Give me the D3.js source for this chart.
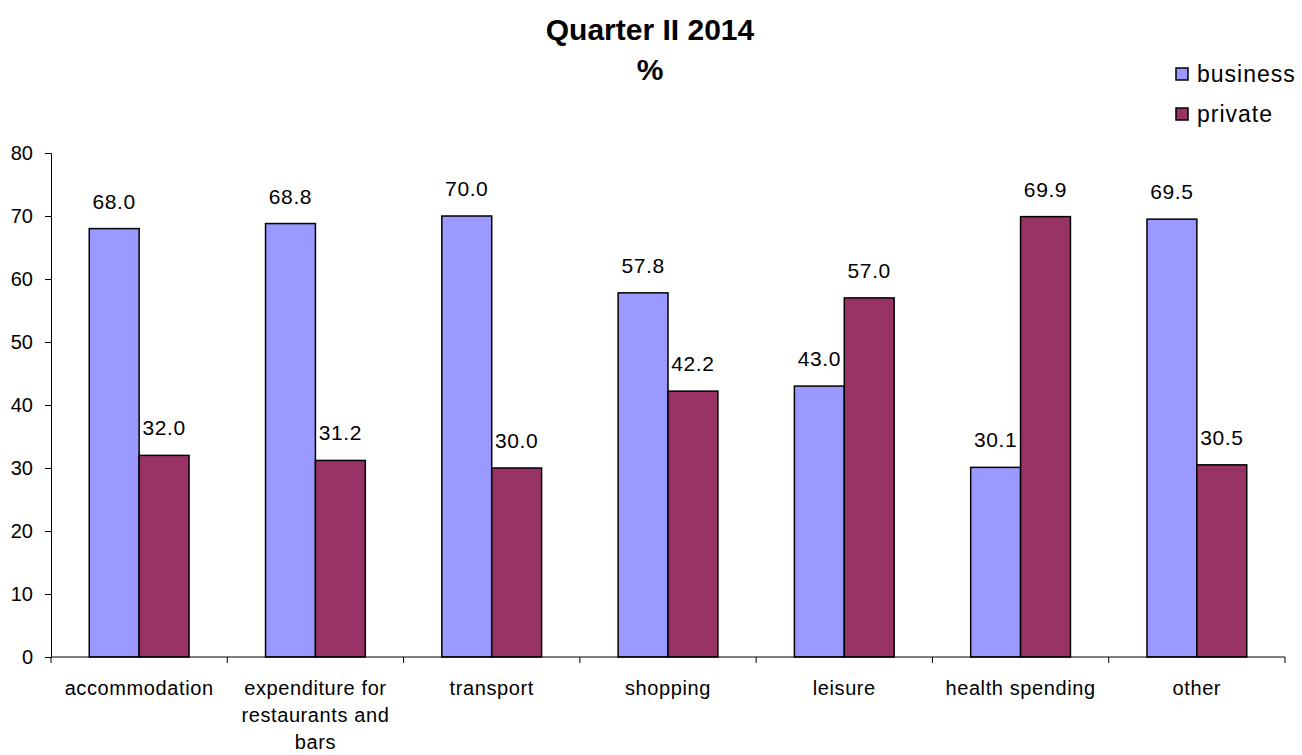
<!DOCTYPE html>
<html>
<head>
<meta charset="utf-8">
<script src="https://cdn.jsdelivr.net/npm/d3@7"></script>
<style>
  body { margin: 0; background: #fff; }
  text { font-family: "Liberation Sans", Arial, sans-serif; fill: #000; }
</style>
</head>
<body>
<div id="chart"></div>
<script>
// chart data
const categories = ["accommodation", "expenditure for restaurants and bars", "transport", "shopping", "leisure", "health spending", "other"]
const seriesNames = ["business", "private"]
const business = [68.0, 68.8, 70.0, 57.8, 43.0, 30.1, 69.5]
const privateVals = [32.0, 31.2, 30.0, 42.2, 57.0, 69.9, 30.5]
const yTicks = [0, 10, 20, 30, 40, 50, 60, 70, 80]
const colors = ["#9999ff", "#993366"]

// dimensions
const W = 1302, H = 755
const margin = { top: 153, right: 17, bottom: 98, left: 51 }
const width = W - margin.left - margin.right
const height = H - margin.top - margin.bottom

const svg = d3.select("#chart").append("svg")
    .attr("width", W)
    .attr("height", H)

// title
svg.append("text")
    .attr("x", 650).attr("y", 40)
    .attr("text-anchor", "middle")
    .style("font-size", "30px").style("font-weight", "bold")
    .text("Quarter II 2014")
svg.append("text")
    .attr("x", 650).attr("y", 80)
    .attr("text-anchor", "middle")
    .style("font-size", "30px").style("font-weight", "bold")
    .text("%")

const g = svg.append("g")
    .attr("transform", "translate(" + margin.left + "," + margin.top + ")")

const x = d3.scaleBand().domain(categories).range([0, width])
const y = d3.scaleLinear().domain([0, 80]).range([height, 0])
const barW = x.bandwidth() * 0.283
const x1 = d3.scaleBand().domain(seriesNames).range([0, barW * 2])

// build rows
const rows = categories.map((c, i) => ({ cat: c, vals: [business[i], privateVals[i]] }))

// bars
const groups = g.selectAll(".grp")
    .data(rows)
    .enter().append("g")
    .attr("class", "grp")
    .attr("transform", d => "translate(" + (x(d.cat) + (x.bandwidth() - barW * 2) / 2) + ",0)")

groups.selectAll("rect")
    .data(d => d.vals.map((v, k) => ({ key: seriesNames[k], v: v, k: k })))
    .enter().append("rect")
    .attr("x", d => x1(d.key))
    .attr("y", d => y(d.v))
    .attr("width", x1.bandwidth())
    .attr("height", d => height - y(d.v))
    .style("fill", d => colors[d.k])
    .style("stroke", "#000")
    .style("stroke-width", 1.5)

// value labels
groups.selectAll(".lbl")
    .data(d => d.vals.map((v, k) => ({ key: seriesNames[k], v: v })))
    .enter().append("text")
    .attr("class", "lbl")
    .attr("x", d => x1(d.key) + x1.bandwidth() / 2)
    .attr("y", d => y(d.v) - 20)
    .attr("text-anchor", "middle")
    .style("font-size", "21px")
    .style("letter-spacing", "0.6px")
    .text(d => d.v.toFixed(1))

// y axis
const yAxis = g.append("g")
    .call(d3.axisLeft(y).tickValues(yTicks).tickSize(6).tickPadding(12))
yAxis.select(".domain").attr("stroke", "#000").attr("stroke-width", 1)
yAxis.selectAll("text").style("font-size", "20px").style("font-family", "Liberation Sans, Arial, sans-serif")

// x axis with ticks on category boundaries
const xAxisG = g.append("g").attr("transform", "translate(0," + height + ")")
xAxisG.append("line")
    .attr("x1", 0).attr("x2", width)
    .attr("stroke", "#000").attr("stroke-width", 1)
xAxisG.selectAll(".xtick")
    .data(categories.concat(["end"]))
    .enter().append("line")
    .attr("x1", (d, i) => i < categories.length ? x(d) : width)
    .attr("x2", (d, i) => i < categories.length ? x(d) : width)
    .attr("y1", 0).attr("y2", 6)
    .attr("stroke", "#000")

// category labels, wrapped
const catText = xAxisG.selectAll(".cat")
    .data(categories)
    .enter().append("text")
    .attr("class", "cat")
    .attr("x", d => x(d) + x.bandwidth() / 2)
    .attr("y", 38)
    .attr("text-anchor", "middle")
    .style("font-size", "20px")
    .style("letter-spacing", "0.6px")
    .text(d => d)

catText.each(function(d) {
    const t = d3.select(this)
    const words = d.split(" ")
    t.text(null)
    let line = []
    let ts = t.append("tspan").attr("x", x(d) + x.bandwidth() / 2).attr("dy", 0)
    words.forEach(w => {
        line.push(w)
        ts.text(line.join(" "))
        if (ts.node().getComputedTextLength() > 165 && line.length > 1) {
            line.pop()
            ts.text(line.join(" "))
            line = [w]
            ts = t.append("tspan").attr("x", x(d) + x.bandwidth() / 2).attr("dy", 27).text(w)
        }
    })
})

// legend
const legend = svg.append("g")
    .selectAll("g")
    .data(seriesNames)
    .enter().append("g")
    .attr("transform", (d, i) => "translate(1176," + (68 + i * 40) + ")")
legend.append("rect")
    .attr("width", 12).attr("height", 12)
    .style("fill", (d, i) => colors[i])
    .style("stroke", "#000").style("stroke-width", 1.5)
legend.append("text")
    .attr("x", 21).attr("y", 14)
    .style("font-size", "23px")
    .style("letter-spacing", "1px")
    .text(d => d)
</script>
</body>
</html>
